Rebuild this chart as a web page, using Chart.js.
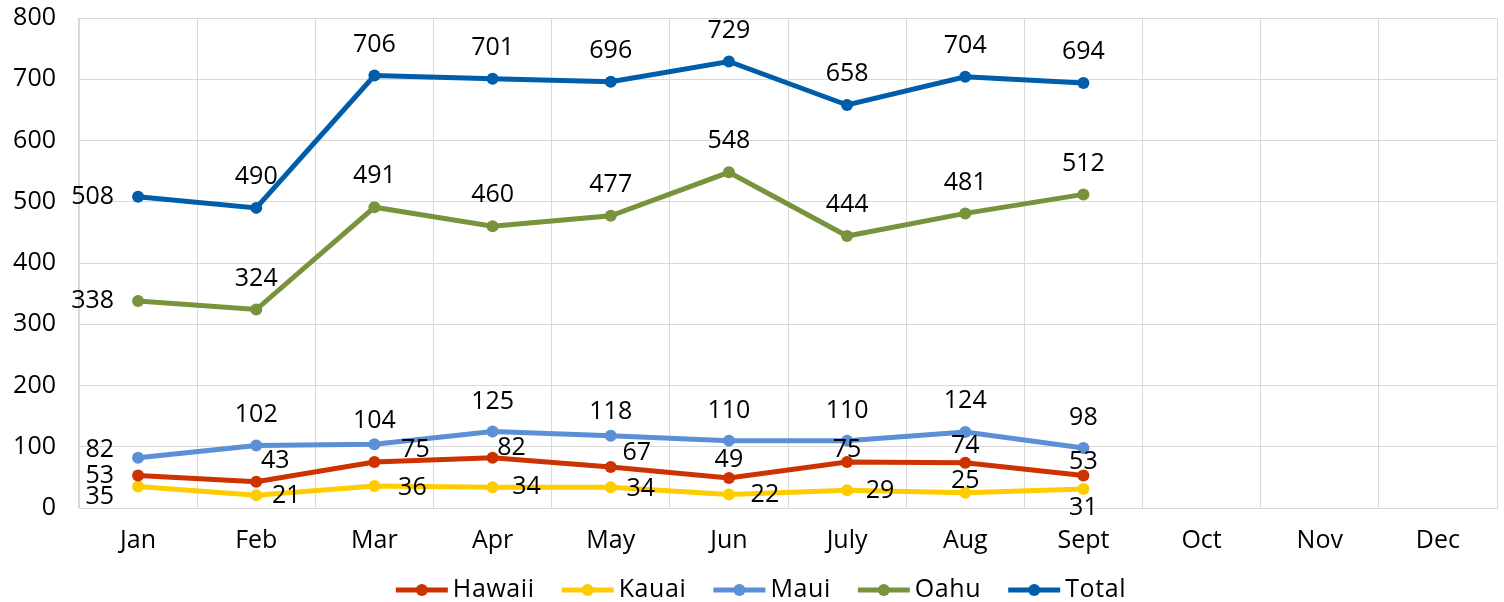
<!DOCTYPE html>
<html>
<head>
<meta charset="utf-8">
<script src="https://cdn.jsdelivr.net/npm/chart.js@4.4.0/dist/chart.umd.min.js"></script>
<style>
  body { margin: 0; background: #fff; }
  #wrap { width: 1504px; height: 602px; }
</style>
</head>
<body>
<div id="wrap"><canvas id="visitors" width="1504" height="602"></canvas></div>
<script>
// data
var months = ['Jan', 'Feb', 'Mar', 'Apr', 'May', 'Jun', 'July', 'Aug', 'Sept', 'Oct', 'Nov', 'Dec'];
var hawaii = [53, 43, 75, 82, 67, 49, 75, 74, 53];
var kauai = [35, 21, 36, 34, 34, 22, 29, 25, 31];
var maui = [82, 102, 104, 125, 118, 110, 110, 124, 98];
var oahu = [338, 324, 491, 460, 477, 548, 444, 481, 512];
var total = [508, 490, 706, 701, 696, 729, 658, 704, 694];
var yTicks = [0, 100, 200, 300, 400, 500, 600, 700, 800];

var FONT = '"Open Sans", sans-serif';
var FSIZE = 25;
var TXT = '#000';

// label offsets from each point [dx, dy, align]
var L = [-24, 0, 'right'];
var A = [0, -31, 'center'];
var labelPos = {
    Hawaii: [L, [19, -21, 'center'], [41, -12, 'center'], [19, -10, 'center'], [26, -14, 'center'], [0, -18, 'center'], [0, -12, 'center'], [0, -17, 'center'], [0, -14, 'center']],
    Kauai: [[-24, 10, 'right'], [30, 1, 'center'], [38, 2, 'center'], [34, 0, 'center'], [30, 2, 'center'], [36, 0, 'center'], [33, 1, 'center'], [0, -12, 'center'], [0, 19, 'center']],
    Maui: [[-24, -8, 'right'], A, [0, -23, 'center'], [0, -30, 'center'], [0, -24, 'center'], [0, -30, 'center'], [0, -30, 'center'], A, [0, -30, 'center']],
    Oahu: [L, A, A, A, A, A, A, A, A],
    Total: [L, A, A, A, A, A, A, A, A]
};

function series(name, values, color) {
    return {
        label: name,
        data: values,
        borderColor: color,
        backgroundColor: color,
        borderWidth: 5,
        pointRadius: 6,
        pointHoverRadius: 6,
        pointBorderWidth: 0,
        tension: 0
    };
}

var valueLabels = {
    id: 'valueLabels',
    afterDatasetsDraw: function(chart) {
        var ctx = chart.ctx;
        ctx.save();
        ctx.font = FSIZE + 'px ' + FONT;
        ctx.fillStyle = TXT;
        ctx.textBaseline = 'middle';
        chart.data.datasets.forEach(function(ds, i) {
            var meta = chart.getDatasetMeta(i);
            var pos = labelPos[ds.label];
            meta.data.forEach(function(pt, j) {
                var o = pos[j];
                ctx.textAlign = o[2];
                ctx.fillText(ds.data[j], pt.x + o[0], pt.y + o[1]);
            });
        });
        ctx.restore();
    }
};

// legend: line with a dot, then the name
var lineLegend = {
    id: 'lineLegend',
    afterDraw: function(chart) {
        var ctx = chart.ctx;
        var sets = chart.data.datasets;
        var icon = 52, gap = 5, space = 27, y = 590;
        ctx.save();
        ctx.font = FSIZE + 'px ' + FONT;
        ctx.letterSpacing = '0.6px';
        var widths = sets.map(function(d) { return icon + gap + ctx.measureText(d.label).width; });
        var full = widths.reduce(function(a, b) { return a + b; }, 0) + space * (sets.length - 1);
        var x = (chart.width - full) / 2 + 9;
        sets.forEach(function(d, i) {
            ctx.strokeStyle = d.borderColor;
            ctx.lineWidth = 5;
            ctx.beginPath(); ctx.moveTo(x, y); ctx.lineTo(x + icon, y); ctx.stroke();
            ctx.fillStyle = d.borderColor;
            ctx.beginPath(); ctx.arc(x + icon / 2, y, 6, 0, Math.PI * 2); ctx.fill();
            ctx.fillStyle = TXT;
            ctx.textAlign = 'left';
            ctx.textBaseline = 'middle';
            ctx.fillText(d.label, x + icon + gap, y);
            x += widths[i] + space;
        });
        ctx.restore();
    }
};

var chartdata = {
    labels: months,
    datasets: [
        series('Hawaii', hawaii, '#cc3300'),
        series('Kauai', kauai, '#ffcc00'),
        series('Maui', maui, '#5b8fd6'),
        series('Oahu', oahu, '#77933c'),
        series('Total', total, '#005daa')
    ]
};

var ctx = document.getElementById('visitors');

var lineGraph = new Chart(ctx, {
    type: 'line',
    data: chartdata,
    plugins: [valueLabels, lineLegend],
    options: {
        responsive: false,
        animation: false,
        devicePixelRatio: 1,
        layout: { padding: { top: 18, right: 7, left: 0, bottom: 28 } },
        plugins: {
            tooltip: { enabled: false },
            legend: { display: false }
        },
        scales: {
            x: {
                offset: true,
                grid: { offset: true, color: '#d9d9d9', drawTicks: false },
                border: { color: '#d9d9d9' },
                ticks: { color: TXT, font: { family: FONT, size: FSIZE }, padding: 18 }
            },
            y: {
                min: 0,
                max: 800,
                afterFit: function(scale) {
                    scale.width = 79;
                    scale.paddingTop = 0;
                    scale.paddingBottom = 0;
                },
                afterBuildTicks: function(scale) {
                    scale.ticks = yTicks.map(function(v) { return { value: v }; });
                },
                grid: { color: '#d9d9d9', drawTicks: false },
                border: { color: '#d9d9d9' },
                ticks: { color: TXT, font: { family: FONT, size: FSIZE }, padding: 23 }
            }
        }
    }
});
</script>
</body>
</html>
